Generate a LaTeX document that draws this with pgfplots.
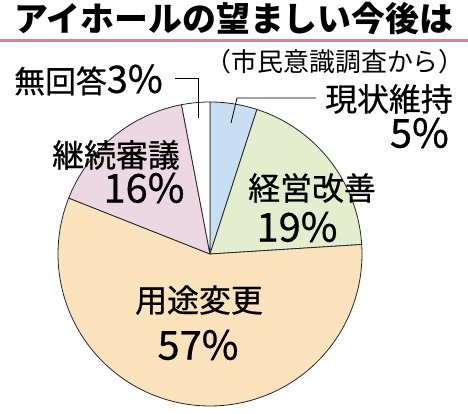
\documentclass[border=0pt]{standalone}
\usepackage{pgfplots}
\pgfplotsset{compat=1.18}
\usepackage{fontspec}
\setmainfont{Noto Sans CJK JP}
\newfontfamily\jpm[FakeBold=0.7]{Noto Sans CJK JP}

\definecolor{rulered}{RGB}{205,138,148}
\definecolor{sliceblue}{RGB}{200,222,242}
\definecolor{slicegreen}{RGB}{228,238,206}
\definecolor{sliceorange}{RGB}{250,226,188}
\definecolor{slicepink}{RGB}{236,216,226}

% shares in percent, clockwise from 12 o'clock
\def\vGenjo{5}
\def\vKeiei{19}
\def\vYoto{57}
\def\vKeizoku{16}
\def\vMukaito{3}

\pgfmathsetmacro\aA{90}
\pgfmathsetmacro\aB{\aA-3.6*\vGenjo}
\pgfmathsetmacro\aC{\aB-3.6*\vKeiei}
\pgfmathsetmacro\aD{\aC-3.6*\vYoto}
\pgfmathsetmacro\aE{\aD-3.6*\vKeizoku}
\pgfmathsetmacro\aF{\aE-3.6*\vMukaito}

\newcommand\lab[1]{{\jpm\fontsize{32}{32}\selectfont #1}}
\newcommand\pct[1]{{\jpm\fontsize{40}{40}\selectfont #1}}

\begin{document}
\begin{tikzpicture}
\useasboundingbox (0,0) rectangle (468bp,414bp);
\begin{axis}[
    hide axis, scale only axis, clip=false,
    width=468bp, height=414bp,
    xmin=0, xmax=468, ymin=0, ymax=414,
    y dir=reverse,
    every axis plot/.append style={draw=black!85, line width=0.8bp, samples=40, variable=\t},
]
\addplot[fill=sliceblue, domain=\aB:\aA] ({210+152*cos(\t)},{254-152*sin(\t)}) -- (axis cs:210,254) -- cycle;
\addplot[fill=slicegreen, domain=\aC:\aB] ({210+152*cos(\t)},{254-152*sin(\t)}) -- (axis cs:210,254) -- cycle;
\addplot[fill=sliceorange, domain=\aD:\aC, samples=100] ({210+152*cos(\t)},{254-152*sin(\t)}) -- (axis cs:210,254) -- cycle;
\addplot[fill=slicepink, domain=\aE:\aD] ({210+152*cos(\t)},{254-152*sin(\t)}) -- (axis cs:210,254) -- cycle;
\addplot[fill=white, domain=\aF:\aE] ({210+152*cos(\t)},{254-152*sin(\t)}) -- (axis cs:210,254) -- cycle;

% leader lines
\addplot[black, line width=0.8bp] coordinates {(175,78) (198,78) (198,118)};
\addplot[black, line width=0.8bp] coordinates {(316,98) (237,98) (231,123)};

% title and rule
\node[inner sep=0] at (axis cs:234,19) {\fontsize{34}{34}\selectfont\bfseries アイホールの望ましい今後は};
\addplot[rulered, line width=3bp] coordinates {(0,41) (468,41)};
\node[inner sep=0, anchor=east] at (axis cs:465,62) {\fontsize{26}{26}\selectfont （市民意識調査から）};

% labels
\node[inner sep=0, anchor=west] at (axis cs:14,80) {\jpm\fontsize{31}{31}\selectfont 無回答\fontsize{38}{38}\selectfont 3\%};
\node[inner sep=0] at (axis cs:389,99) {\lab{現状維持}};
\node[inner sep=0, anchor=east] at (axis cs:449,133) {\pct{5\%}};
\node[inner sep=0] at (axis cs:116,155) {\lab{継続審議}};
\node[inner sep=0] at (axis cs:144,188) {\pct{16\%}};
\node[inner sep=0] at (axis cs:312,188) {\lab{経営改善}};
\node[inner sep=0] at (axis cs:297,227) {\pct{19\%}};
\node[inner sep=0] at (axis cs:199,300) {\lab{用途変更}};
\node[inner sep=0] at (axis cs:198,345) {\pct{57\%}};
\end{axis}
\end{tikzpicture}
\end{document}
